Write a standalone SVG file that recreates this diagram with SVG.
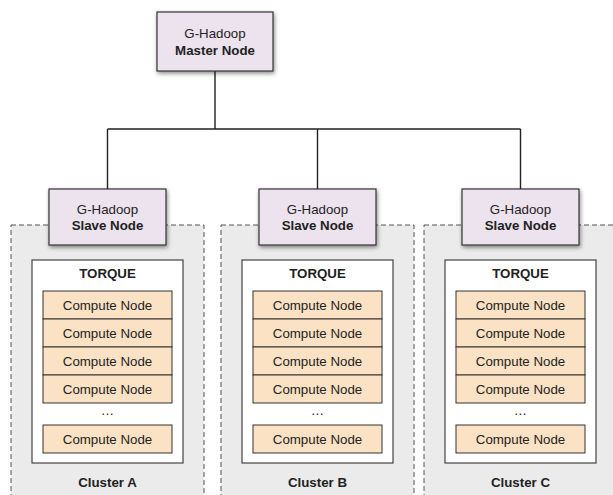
<svg xmlns="http://www.w3.org/2000/svg" width="613" height="495" viewBox="0 0 613 495">
<style>
text{font-family:"Liberation Sans",Arial,sans-serif;font-size:13.3px;fill:#222;text-anchor:middle}
.b{font-weight:bold}
.hn{fill:#ede3ee;stroke:#333;stroke-width:1.2}
.cl{fill:#ebebec;stroke:#555;stroke-width:1;stroke-dasharray:5 3}
.tq{fill:#fff;stroke:#444;stroke-width:1.2}
.cn{fill:#fbe2c4;stroke:#333;stroke-width:1}
.ln{stroke:#222;stroke-width:1.4;fill:none}
</style>
<defs>
<filter id="sh" x="-20%" y="-20%" width="140%" height="150%">
<feDropShadow dx="1" dy="2" stdDeviation="2" flood-color="#000" flood-opacity="0.45"/>
</filter>
</defs>
<g id="cluster-a">
<rect class="cl" x="11" y="225" width="193" height="280"/>
<rect class="tq" x="32" y="260" width="151" height="203"/>
<text class="b" x="107.5" y="278">TORQUE</text>
<rect class="cn" x="43" y="291" width="129" height="28"/><text x="107.5" y="310">Compute Node</text>
<rect class="cn" x="43" y="319" width="129" height="28"/><text x="107.5" y="338">Compute Node</text>
<rect class="cn" x="43" y="347" width="129" height="28"/><text x="107.5" y="366">Compute Node</text>
<rect class="cn" x="43" y="375" width="129" height="28"/><text x="107.5" y="394">Compute Node</text>
<text x="107.5" y="415">…</text>
<rect class="cn" x="43" y="425" width="129" height="28"/><text x="107.5" y="444">Compute Node</text>
<text class="b" x="107.5" y="487">Cluster A</text>
</g>
<g id="cluster-b">
<rect class="cl" x="221" y="225" width="193" height="280"/>
<rect class="tq" x="242" y="260" width="151" height="203"/>
<text class="b" x="317.5" y="278">TORQUE</text>
<rect class="cn" x="253" y="291" width="129" height="28"/><text x="317.5" y="310">Compute Node</text>
<rect class="cn" x="253" y="319" width="129" height="28"/><text x="317.5" y="338">Compute Node</text>
<rect class="cn" x="253" y="347" width="129" height="28"/><text x="317.5" y="366">Compute Node</text>
<rect class="cn" x="253" y="375" width="129" height="28"/><text x="317.5" y="394">Compute Node</text>
<text x="317.5" y="415">…</text>
<rect class="cn" x="253" y="425" width="129" height="28"/><text x="317.5" y="444">Compute Node</text>
<text class="b" x="317.5" y="487">Cluster B</text>
</g>
<g id="cluster-c">
<rect class="cl" x="424" y="225" width="193" height="280"/>
<rect class="tq" x="445" y="260" width="151" height="203"/>
<text class="b" x="520.5" y="278">TORQUE</text>
<rect class="cn" x="456" y="291" width="129" height="28"/><text x="520.5" y="310">Compute Node</text>
<rect class="cn" x="456" y="319" width="129" height="28"/><text x="520.5" y="338">Compute Node</text>
<rect class="cn" x="456" y="347" width="129" height="28"/><text x="520.5" y="366">Compute Node</text>
<rect class="cn" x="456" y="375" width="129" height="28"/><text x="520.5" y="394">Compute Node</text>
<text x="520.5" y="415">…</text>
<rect class="cn" x="456" y="425" width="129" height="28"/><text x="520.5" y="444">Compute Node</text>
<text class="b" x="520.5" y="487">Cluster C</text>
</g>
<g id="connectors">
<path class="ln" d="M215 71V129M107.5 129H520.5M107.5 129V189M317.5 129V189M520.5 129V189"/>
</g>
<g id="master">
<rect class="hn" filter="url(#sh)" x="157" y="12" width="116" height="59"/>
<text x="215" y="38">G-Hadoop</text>
<text class="b" x="215" y="55">Master Node</text>
</g>
<g id="slave-a">
<rect class="hn" filter="url(#sh)" x="49" y="189" width="117" height="56"/>
<text x="107.5" y="214">G-Hadoop</text>
<text class="b" x="107.5" y="230">Slave Node</text>
</g>
<g id="slave-b">
<rect class="hn" filter="url(#sh)" x="259" y="189" width="117" height="56"/>
<text x="317.5" y="214">G-Hadoop</text>
<text class="b" x="317.5" y="230">Slave Node</text>
</g>
<g id="slave-c">
<rect class="hn" filter="url(#sh)" x="462" y="189" width="117" height="56"/>
<text x="520.5" y="214">G-Hadoop</text>
<text class="b" x="520.5" y="230">Slave Node</text>
</g>
</svg>
